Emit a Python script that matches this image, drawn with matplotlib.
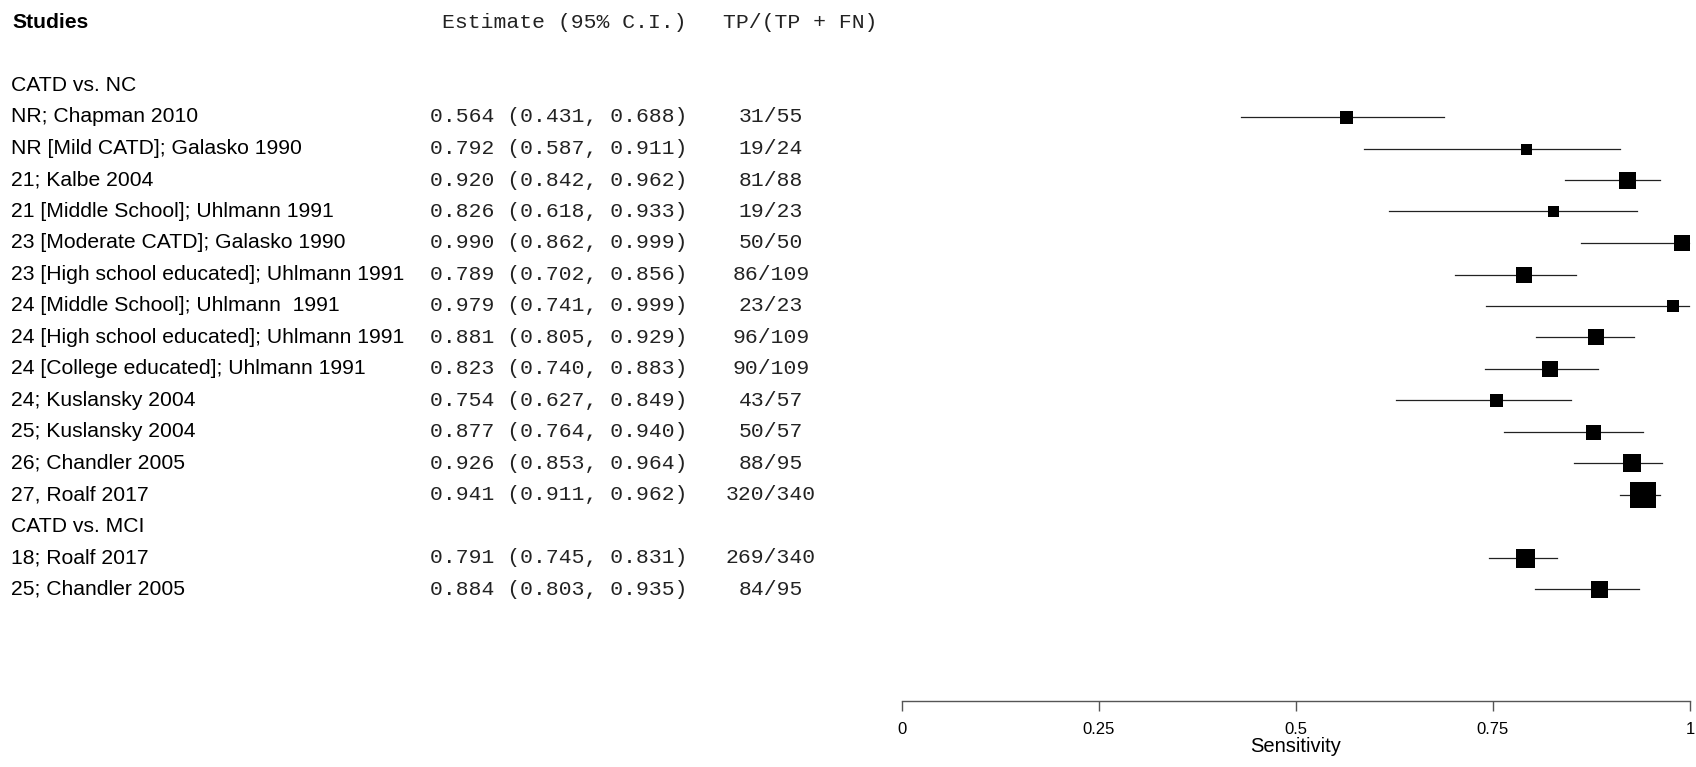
import matplotlib
matplotlib.use("Agg")
import matplotlib.pyplot as plt
import matplotlib.transforms as mtransforms

# 데이터
studies = ["NR; Chapman 2010", "NR [Mild CATD]; Galasko 1990", "21; Kalbe 2004",
           "21 [Middle School]; Uhlmann 1991", "23 [Moderate CATD]; Galasko 1990",
           "23 [High school educated]; Uhlmann 1991", "24 [Middle School]; Uhlmann  1991",
           "24 [High school educated]; Uhlmann 1991", "24 [College educated]; Uhlmann 1991",
           "24; Kuslansky 2004", "25; Kuslansky 2004", "26; Chandler 2005", "27, Roalf 2017",
           "18; Roalf 2017", "25; Chandler 2005"]
groups = ["CATD vs. NC"] * 13 + ["CATD vs. MCI"] * 2
estimate = [0.564, 0.792, 0.920, 0.826, 0.990, 0.789, 0.979, 0.881, 0.823, 0.754, 0.877, 0.926, 0.941, 0.791, 0.884]
ci_low = [0.431, 0.587, 0.842, 0.618, 0.862, 0.702, 0.741, 0.805, 0.740, 0.627, 0.764, 0.853, 0.911, 0.745, 0.803]
ci_high = [0.688, 0.911, 0.962, 0.933, 0.999, 0.856, 0.999, 0.929, 0.883, 0.849, 0.940, 0.964, 0.962, 0.831, 0.935]
tp = [31, 19, 81, 19, 50, 86, 23, 96, 90, 43, 50, 88, 320, 269, 84]
n_pos = [55, 24, 88, 23, 50, 109, 23, 109, 109, 57, 57, 95, 340, 340, 95]
weights = [13, 11, 17, 11, 16, 16, 12, 16, 16, 13, 15, 18, 26, 19, 17]  # 상자 크기(상대 가중치)
xticks = [0, 0.25, 0.5, 0.75, 1]
xtick_labels = ["0", "0.25", "0.5", "0.75", "1"]

W, H, DPI = 1696, 767, 100
row0, step = 22.5, 31.5  # 픽셀 단위 행 위치

fig = plt.figure(figsize=(W / DPI, H / DPI), dpi=DPI)
ax_left, ax_right, ax_bottom = 901.7, 1690, 701
ax = fig.add_axes([ax_left / W, 1 - ax_bottom / H, (ax_right - ax_left) / W, ax_bottom / H])
ax.set_xlim(0, 1)
ax.set_ylim((ax_bottom - row0) / step, -row0 / step)

sans = "Liberation Sans"
mono = "Liberation Mono"
fs_sans, fs_mono = 15.25, 15.4
mono_col = "#222222"
tr = mtransforms.blended_transform_factory(fig.transFigure, ax.transData)

# 헤더
ax.text(12 / W, 0, "Studies", transform=tr, family=sans, fontsize=fs_sans, fontweight="bold", va="center")
ax.text(442 / W, 0, "Estimate (95% C.I.)", transform=tr, family=mono, fontsize=fs_mono,
        color=mono_col, va="center")
ax.text(723 / W, 0, "TP/(TP + FN)", transform=tr, family=mono, fontsize=fs_mono,
        color=mono_col, va="center")

# 행 배치
row = 1
prev = None
for i in range(len(studies)):
    if groups[i] != prev:
        row += 1
        ax.text(11 / W, row, groups[i], transform=tr, family=sans, fontsize=fs_sans, va="center")
        prev = groups[i]
    row += 1
    ax.text(11 / W, row, studies[i], transform=tr, family=sans, fontsize=fs_sans, va="center")
    ax.text(430 / W, row, f"{estimate[i]:.3f} ({ci_low[i]:.3f}, {ci_high[i]:.3f})",
            transform=tr, family=mono, fontsize=fs_mono, color=mono_col, va="center")
    ax.text(771 / W, row, f"{tp[i]}/{n_pos[i]}", transform=tr, family=mono, fontsize=fs_mono,
            color=mono_col, va="center", ha="center")
    ax.plot([ci_low[i], ci_high[i]], [row, row], color="#222222", lw=0.9, clip_on=False)
    ax.plot(estimate[i], row, marker="s", color="black", ms=weights[i] * 0.72, mew=0,
            clip_on=False)

# 축
for s in ["top", "right", "left"]:
    ax.spines[s].set_visible(False)
ax.spines["bottom"].set_color("#555555")
ax.spines["bottom"].set_linewidth(1.0)
ax.set_yticks([])
ax.set_xticks(xticks)
ax.set_xticklabels(xtick_labels, family=sans, fontsize=12)
ax.tick_params(axis="x", length=7.2, width=1.0, color="#555555", pad=8)
ax.set_xlabel("Sensitivity", family=sans, fontsize=14.5, labelpad=0)
ax.patch.set_visible(False)

fig.savefig("out.png", dpi=DPI)
